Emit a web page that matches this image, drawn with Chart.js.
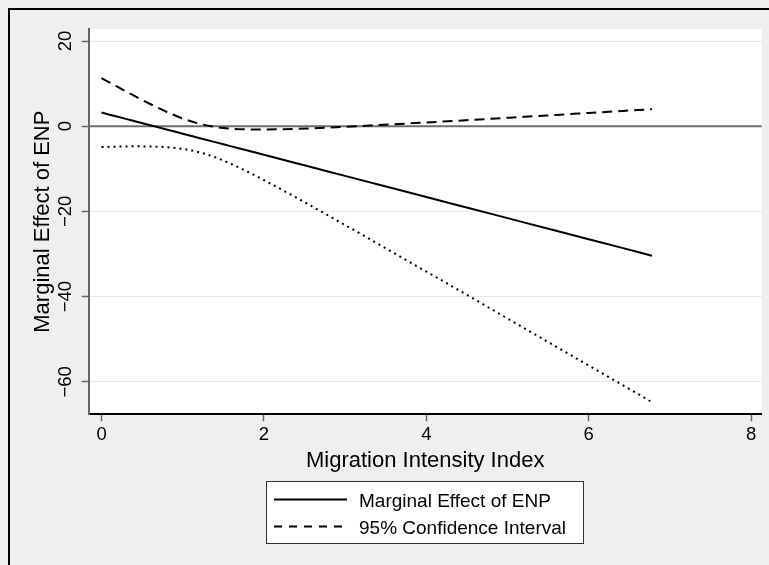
<!DOCTYPE html>
<html><head><meta charset="utf-8">
<script src="https://cdn.jsdelivr.net/npm/chart.js@4.4.1/dist/chart.umd.min.js"></script>
<style>html,body{margin:0;padding:0;background:#efefef;} canvas{display:block;}</style>
</head><body>
<canvas id="c" width="769" height="565"></canvas>
<script>
const xValues = [0,0.2,0.4,0.6,0.8,1.0,1.2,1.4,1.6,1.8,2.0,2.4,2.8,3.2,3.6,4.0,4.4,4.8,5.2,5.6,6.0,6.4,6.78];
const marginalEffect = [3.20,2.21,1.22,0.23,-0.76,-1.76,-2.75,-3.74,-4.73,-5.72,-6.71,-8.69,-10.67,-12.66,-14.64,-16.62,-18.60,-20.58,-22.57,-24.55,-26.53,-28.51,-30.40];
const upperCI = [11.30,9.21,7.17,5.21,3.40,1.82,0.61,-0.17,-0.58,-0.75,-0.77,-0.61,-0.31,0.06,0.46,0.88,1.31,1.75,2.20,2.65,3.11,3.57,4.00];
const lowerCI = [-4.90,-4.79,-4.73,-4.76,-4.92,-5.33,-6.10,-7.30,-8.88,-10.69,-12.65,-16.77,-21.04,-25.37,-29.73,-34.12,-38.51,-42.92,-47.33,-51.75,-56.17,-60.59,-64.79];
const xTicks = [0,2,4,6,8];
const yTicks = [20,0,-20,-40,-60];
const seriesLabels = ['Marginal Effect of ENP','95% Confidence Interval'];
const xTitle = 'Migration Intensity Index';
const yTitle = 'Marginal Effect of ENP';

const FONT = "'Liberation Sans', Arial, Helvetica, sans-serif";
const pts = arr => xValues.map((x,i)=>({x:x,y:arr[i]}));

const stataPlugin = {
  id:'stata',
  beforeDraw(chart){
    const ctx = chart.ctx, a = chart.chartArea;
    ctx.save();
    ctx.fillStyle = '#efefef';
    ctx.fillRect(0,0,chart.width,chart.height);
    ctx.fillStyle = '#000';
    ctx.fillRect(8,8,chart.width-8,2);
    ctx.fillRect(8,8,2,chart.height-8);
    ctx.fillStyle = '#fff';
    ctx.fillRect(a.left,a.top,a.right-a.left,a.bottom-a.top);
    ctx.restore();
  },
  beforeDatasetsDraw(chart){
    const ctx = chart.ctx, a = chart.chartArea, ys = chart.scales.y;
    const y0 = ys.getPixelForValue(0);
    ctx.save();
    ctx.strokeStyle = '#6e6e6e';
    ctx.lineWidth = 2;
    ctx.beginPath(); ctx.moveTo(a.left,y0); ctx.lineTo(a.right,y0); ctx.stroke();
    ctx.restore();
  },
  afterDraw(chart){
    const ctx = chart.ctx, a = chart.chartArea, xs = chart.scales.x, ys = chart.scales.y;
    ctx.save();
    ctx.fillStyle = '#000';
    ctx.font = '18.5px ' + FONT;
    ctx.textAlign = 'center';
    ctx.textBaseline = 'alphabetic';
    xTicks.forEach(v=>{ ctx.fillText(String(v), xs.getPixelForValue(v), 440); });
    yTicks.forEach(v=>{
      const lbl = v<0 ? '\u2212'+Math.abs(v) : String(v);
      ctx.save(); ctx.translate(71, ys.getPixelForValue(v)); ctx.rotate(-Math.PI/2);
      ctx.fillText(lbl,0,0); ctx.restore();
    });
    ctx.font = '22px ' + FONT;
    ctx.fillText(xTitle, (a.left+a.right)/2, 467);
    ctx.save(); ctx.translate(49,(a.top+a.bottom)/2); ctx.rotate(-Math.PI/2);
    ctx.fillText(yTitle,0,0); ctx.restore();
    // legend
    ctx.fillStyle = '#fff';
    ctx.fillRect(266,481,318,63);
    ctx.strokeStyle = '#333'; ctx.lineWidth = 1;
    ctx.strokeRect(266.5,481.5,317,62);
    const rows = [499.5,526.5];
    ctx.font = '19px ' + FONT; ctx.textAlign='left'; ctx.fillStyle='#000';
    seriesLabels.forEach((lab,i)=>{
      const ds = chart.data.datasets[i];
      ctx.save();
      ctx.strokeStyle = ds.borderColor; ctx.lineWidth = ds.borderWidth;
      ctx.setLineDash(i===1 ? [8,7] : []);
      ctx.beginPath(); ctx.moveTo(274,rows[i]); ctx.lineTo(347,rows[i]); ctx.stroke();
      ctx.restore();
      ctx.fillText(lab, 359, rows[i]+7);
    });
    ctx.restore();
  }
};

new Chart(document.getElementById('c'),{
  type:'line',
  data:{datasets:[
    {label:seriesLabels[0], data:pts(marginalEffect), borderColor:'#000', borderWidth:2, pointRadius:0, cubicInterpolationMode:'monotone'},
    {label:seriesLabels[1], data:pts(upperCI), borderColor:'#000', borderWidth:2, borderDash:[10,6], pointRadius:0, cubicInterpolationMode:'monotone'},
    {label:seriesLabels[1], data:pts(lowerCI), borderColor:'#000', borderWidth:2, borderDash:[2,4], pointRadius:0, cubicInterpolationMode:'monotone'}
  ]},
  options:{
    responsive:false, animation:false, events:[],
    layout:{padding:{top:29,right:7.3,left:0,bottom:0}},
    plugins:{legend:{display:false}, tooltip:{enabled:false}},
    scales:{
      x:{type:'linear', min:-0.158, max:8.131,
        afterBuildTicks:s=>{s.ticks = xTicks.map(v=>({value:v}));},
        afterFit:s=>{s.height = 150.7;},
        ticks:{display:false},
        grid:{display:true, drawOnChartArea:false, drawTicks:true, tickLength:7, tickColor:'#666', tickWidth:1.5},
        border:{display:true, color:'#000', width:2}
      },
      y:{type:'linear', min:-67.63, max:22.82,
        afterBuildTicks:s=>{s.ticks = yTicks.map(v=>({value:v}));},
        afterFit:s=>{s.width = 88.7;},
        ticks:{display:false},
        grid:{display:true, color:'#e6e6e6', lineWidth:1, drawTicks:true, tickLength:7, tickColor:'#666', tickWidth:1.5},
        border:{display:true, color:'#666', width:2}
      }
    }
  },
  plugins:[stataPlugin]
});
</script>
</body></html>
